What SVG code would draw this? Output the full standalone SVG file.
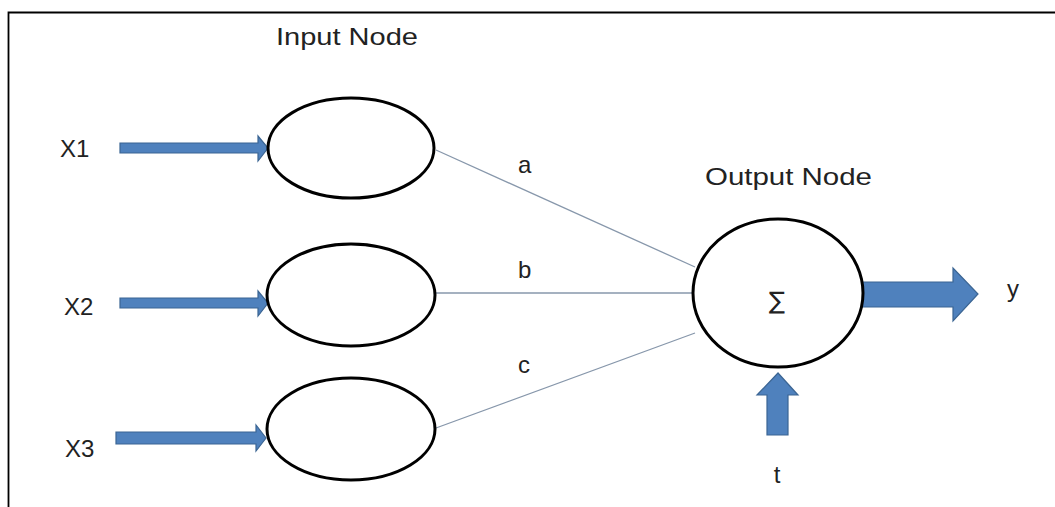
<svg xmlns="http://www.w3.org/2000/svg" width="1055" height="507" viewBox="0 0 1055 507">
<style>
.node{fill:#fff;stroke:#000;stroke-width:3}
.lbl{font-family:"Liberation Sans",Arial,sans-serif;fill:#222;font-size:24px}
.sig{font-family:"DejaVu Sans",sans-serif;fill:#222;font-size:24px}
.conn{stroke:#8797ab;stroke-width:1.3;fill:none}
.arr{fill:#4f81bd;stroke:#3b6593;stroke-width:1.2}
</style>
<rect width="1055" height="507" fill="#fff"/>
<path d="M8.5 507 V12.5 H1055" fill="none" stroke="#000" stroke-width="1.8"/>
<g id="connectors">
<line class="conn" x1="436" y1="150" x2="695" y2="267"/>
<line class="conn" x1="436" y1="293" x2="695" y2="293"/>
<line class="conn" x1="436" y1="428" x2="695" y2="333"/>
<path class="arr" d="M120 143 H258 V136 L268 148 L258 161 V153 H120 Z"/>
<path class="arr" d="M120 298 H258 V291 L268 303 L258 316 V308 H120 Z"/>
<path class="arr" d="M116 432 H256 V425 L266 438 L256 451 V444 H116 Z"/>
<path class="arr" d="M860 282 H953 V268 L978 294 L953 321 V307 H860 Z"/>
<path class="arr" d="M767 435 V395 H757 L778 373 L798 395 H788 V435 Z"/>
</g>
<g id="input-label"><text class="lbl" x="276" y="45" textLength="142" lengthAdjust="spacingAndGlyphs">Input Node</text></g>
<g id="input1"><ellipse class="node" cx="351" cy="148" rx="83" ry="50"/></g>
<g id="input2"><ellipse class="node" cx="351" cy="295" rx="84" ry="51"/></g>
<g id="input3"><ellipse class="node" cx="351" cy="429" rx="84" ry="51"/></g>
<g id="output"><ellipse class="node" cx="778" cy="293" rx="85" ry="74"/>
<text class="sig" x="777" y="309" text-anchor="middle">∑</text></g>
<g id="output-label"><text class="lbl" x="705" y="185" textLength="167" lengthAdjust="spacingAndGlyphs">Output Node</text></g>
<g id="labels">
<text class="lbl" x="60" y="157">X1</text>
<text class="lbl" x="64" y="315">X2</text>
<text class="lbl" x="65" y="457">X3</text>
<text class="lbl" x="518" y="173">a</text>
<text class="lbl" x="518" y="278">b</text>
<text class="lbl" x="518" y="373">c</text>
<text class="lbl" x="1007" y="297">y</text>
<text class="lbl" x="777" y="483" text-anchor="middle">t</text>
</g>
</svg>
